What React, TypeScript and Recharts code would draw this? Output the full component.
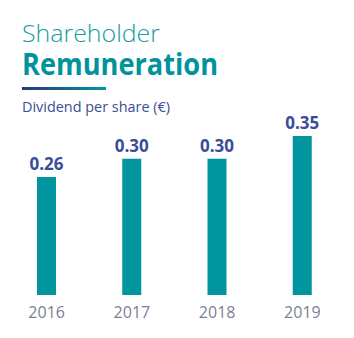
import React from 'react';
import { BarChart, Bar, XAxis, YAxis, LabelList } from 'recharts';

const years = ['2016', '2017', '2018', '2019'];
const dividends = [0.26, 0.3, 0.3, 0.35];

const data = years.map((y, i) => ({ year: y, value: dividends[i] }));

const TEAL = '#00959f';
const NAVY = '#3b4c98';
const FONT = "'Open Sans', sans-serif";

const YearTick = ({ x, y, payload }) => (
  <text x={x} y={y + 15} textAnchor="middle" fill="#7b7f93" fontSize={16} fontFamily={FONT}>
    {payload.value}
  </text>
);

export default function App() {
  return (
    <div style={{ position: 'absolute', left: 0, top: 0, width: 354, height: 338, background: '#fff' }}>
      <svg width={354} height={120} style={{ position: 'absolute', left: 0, top: 0 }}>
        <defs>
          <linearGradient id="rule" x1="0" y1="0" x2="1" y2="0">
            <stop offset="0%" stopColor="#2b3580" />
            <stop offset="100%" stopColor="#0097a0" />
          </linearGradient>
        </defs>
        <text x={22} y={42} fill="#1a9aa2" fontSize={23} fontWeight={300} fontFamily={FONT}
          textLength={138} lengthAdjust="spacingAndGlyphs">Shareholder</text>
        <text x={22} y={75} fill="#00939d" fontSize={30} fontWeight={700} fontFamily={FONT}
          textLength={196} lengthAdjust="spacingAndGlyphs">Remuneration</text>
        <rect x={22} y={87} width={84} height={3} fill="url(#rule)" />
        <text x={22} y={112} fill={NAVY} fontSize={15} fontFamily={FONT}
          textLength={148} lengthAdjust="spacingAndGlyphs">Dividend per share (€)</text>
      </svg>
      <BarChart width={354} height={338} data={data} margin={{ top: 68, right: 9, bottom: 13, left: 4 }}>
        <XAxis dataKey="year" axisLine={false} tickLine={false} height={30} tick={<YearTick />} interval={0} />
        <YAxis hide domain={[0, 0.5]} />
        <Bar dataKey="value" fill={TEAL} barSize={19} isAnimationActive={false}>
          <LabelList dataKey="value" position="top" offset={7} fill={NAVY} fontSize={17}
            fontWeight={700} fontFamily={FONT} formatter={(v) => Number(v).toFixed(2)} />
        </Bar>
      </BarChart>
    </div>
  );
}
